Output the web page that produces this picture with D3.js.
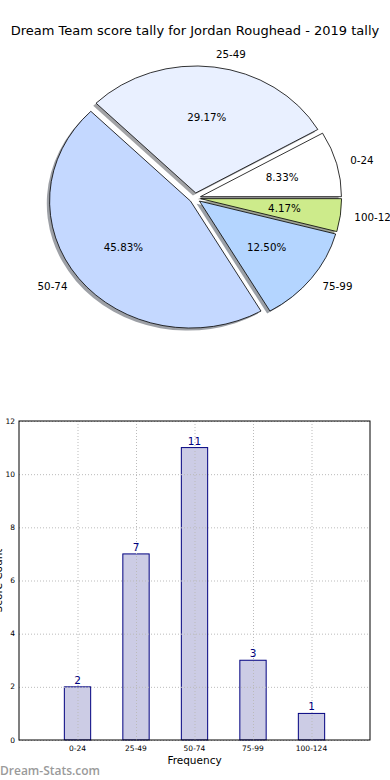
<!DOCTYPE html>
<html><head><meta charset="utf-8">
<script src="https://cdnjs.cloudflare.com/ajax/libs/d3/7.8.5/d3.min.js"></script>
<style>
body{margin:0;background:#fff;}
svg{display:block;font-family:"DejaVu Sans",sans-serif;}
</style></head>
<body><svg id="c" width="390" height="780"></svg>
<script>
const titleText = "Dream Team score tally for Jordan Roughead - 2019 tally";
const categories = ["0-24","25-49","50-74","75-99","100-124"];
const counts = [2,7,11,3,1];
const pieColors = ["#ffffff","#e9f0ff","#c4d8ff","#b4d5ff","#cdeb8b"];
const yTicks = [0,2,4,6,8,10,12];
const xLabel = "Frequency";
const yLabel = "Score Count";
const watermark = "Dream-Stats.com";

const svg = d3.select("#c");
svg.append("text").attr("x",195).attr("y",35).attr("text-anchor","middle")
  .attr("font-size",13).attr("fill","#000").text(titleText);

// ---------- PIE ----------
const cx=195, cy=198, rx=141, ry=127, ex=0.04;
const total = d3.sum(counts);
const pie = d3.pie().sort(null).value(d=>d).startAngle(Math.PI/2).endAngle(Math.PI/2-2*Math.PI);
const arcs = pie(counts);
const unitArc = d3.arc().innerRadius(0).outerRadius(1);
const pg = svg.append("g");
function shift(a){const m=(a.startAngle+a.endAngle)/2;return [ex*rx*Math.sin(m), -ex*ry*Math.cos(m)];}
// shadows
arcs.forEach((a,i)=>{
  const [sx,sy]=shift(a);
  const c=d3.rgb(pieColors[i]);
  const sc=d3.rgb(c.r*0.3,c.g*0.3,c.b*0.3);
  pg.append("g").attr("transform",`translate(${cx+sx-0.02*rx},${cy+sy+0.02*ry}) scale(${rx},${ry})`)
    .append("path").attr("d",unitArc(a)).attr("fill",sc.toString()).attr("opacity",0.5);
});
arcs.forEach((a,i)=>{
  const [sx,sy]=shift(a);
  pg.append("g").attr("transform",`translate(${cx+sx},${cy+sy}) scale(${rx},${ry})`)
    .append("path").attr("d",unitArc(a)).attr("fill",pieColors[i]).attr("stroke","#000")
    .attr("stroke-width",0.8).attr("vector-effect","non-scaling-stroke");
});
arcs.forEach((a,i)=>{
  const [sx,sy]=shift(a);
  const m=(a.startAngle+a.endAngle)/2;
  const ux=Math.sin(m), uy=-Math.cos(m);
  pg.append("text").attr("x",cx+sx+0.6*rx*ux).attr("y",cy+sy+0.6*ry*uy).attr("dy","0.35em")
    .attr("text-anchor","middle").attr("font-size",10.3).text((counts[i]/total*100).toFixed(2)+"%");
  pg.append("text").attr("x",cx+sx+1.1*rx*ux).attr("y",cy+sy+1.1*ry*uy).attr("dy","0.35em")
    .attr("text-anchor",ux>0?"start":"end").attr("font-size",10.3).text(categories[i]);
});

// ---------- BAR ----------
const L=19,R=370,T=421,B=740;
const x=d3.scaleLinear().domain([-1,5]).range([L,R]);
const y=d3.scaleLinear().domain([0,12]).range([B,T]);
const bw=x(0.45)-x(0);
const bg=svg.append("g");
bg.selectAll("rect.bar").data(counts).join("rect").attr("class","bar")
  .attr("x",(d,i)=>x(i)-bw/2).attr("y",d=>y(d)).attr("width",bw).attr("height",d=>y(0)-y(d))
  .attr("fill","#ccccE5").attr("stroke","#000080").attr("stroke-width",1);
// grid
const gx=bg.append("g").attr("transform",`translate(0,${B})`)
  .call(d3.axisBottom(x).tickValues(d3.range(categories.length)).tickSize(-(B-T)).tickFormat(""));
const gy=bg.append("g").attr("transform",`translate(${L},0)`)
  .call(d3.axisLeft(y).tickValues(yTicks).tickSize(-(R-L)).tickFormat(""));
[gx,gy].forEach(g=>{g.select(".domain").remove();
  g.selectAll("line").attr("stroke","#bbbbbb").attr("stroke-width",1).attr("stroke-dasharray","1,2");});
// tick labels
bg.selectAll("text.yt").data(yTicks).join("text").attr("class","yt")
  .attr("x",L-4).attr("y",d=>y(d)).attr("dy","0.35em").attr("text-anchor","end")
  .attr("font-size",7.5).text(d=>d);
bg.selectAll("text.xt").data(categories).join("text").attr("class","xt")
  .attr("x",(d,i)=>x(i)).attr("y",B+11).attr("text-anchor","middle")
  .attr("font-size",7.5).text(d=>d);
// value labels
bg.selectAll("text.vl").data(counts).join("text").attr("class","vl")
  .attr("x",(d,i)=>x(i)).attr("y",d=>y(d)-3).attr("text-anchor","middle")
  .attr("font-size",10.5).attr("fill","#000080").text(d=>d);
// frame
bg.append("rect").attr("x",L).attr("y",T).attr("width",R-L).attr("height",B-T)
  .attr("fill","none").attr("stroke","#000").attr("stroke-width",1);
bg.append("text").attr("x",(L+R)/2).attr("y",764).attr("text-anchor","middle")
  .attr("font-size",10.5).text(xLabel);
bg.append("text").attr("transform",`translate(2,${(T+B)/2}) rotate(-90)`).attr("text-anchor","middle")
  .attr("font-size",10.5).text(yLabel);
svg.append("text").attr("x",0).attr("y",775).attr("font-size",12)
  .attr("font-family","'Open Sans',sans-serif").attr("font-weight",600)
  .attr("fill","#9a9a9a").text(watermark);
</script></body></html>
